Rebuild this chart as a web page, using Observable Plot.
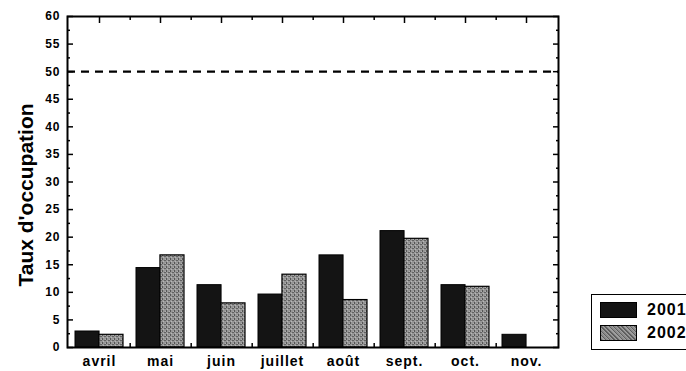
<!DOCTYPE html>
<html><head><meta charset="utf-8">
<script src="https://cdn.jsdelivr.net/npm/d3@7"></script>
<script src="https://cdn.jsdelivr.net/npm/@observablehq/plot@0.6"></script>
<style>
body{margin:0;background:#fff;overflow:hidden;font-family:"Liberation Sans",Arial,sans-serif;}
#wrap{position:relative;width:686px;height:371px;overflow:hidden;background:#fff;}
#wrap svg{position:absolute;left:0;top:0;}
g[aria-label="y-axis tick label"] text{letter-spacing:1px;font-weight:bold;font-size:12px;}
g[aria-label="x-axis tick label"] text{letter-spacing:1px;font-weight:bold;font-size:14px;}
#legend{position:absolute;left:591px;top:294px;width:120px;height:56px;border:1.5px solid #000;box-sizing:border-box;}
#legend .row{position:absolute;left:8px;height:17px;display:flex;align-items:center;}
#legend .sw{display:inline-block;width:37px;height:16px;border:1px solid #000;box-sizing:border-box;margin-right:10px;}
#legend .lab{font-weight:bold;font-size:16px;letter-spacing:1px;color:#000;}
</style></head><body><div id="wrap"></div>
<script>
const months = ["avril","mai","juin","juillet","août","sept.","oct.","nov."];
const years = ["2001","2002"];
const values2001 = [2.9, 14.4, 11.3, 9.6, 16.7, 21.1, 11.3, 2.3];
const values2002 = [2.3, 16.7, 8.0, 13.2, 8.6, 19.7, 11.0, 0];
const yTicks = [0,5,10,15,20,25,30,35,40,45,50,55,60];
const yMinorTicks = [2.5,7.5,12.5,17.5,22.5,27.5,32.5,37.5,42.5,47.5,52.5,57.5];
const referenceLevel = 50;
const yLabel = "Taux d'occupation";

const rows2001 = months.map((m,i)=>({month:m, year:years[0], value:values2001[i]})).filter(d=>d.value>0);
const rows2002 = months.map((m,i)=>({month:m, year:years[1], value:values2002[i]})).filter(d=>d.value>0);

const W = 686, H = 371, mL = 67, mR = 128, mT = 16, mB = 24;
const padIn = 0.22, padOut = 0.11;
const step = (W - mL - mR) / (months.length - padIn + 2*padOut);
const half = step * (1 - padIn) / 2;
const fillA = "#141414";
const fillB = "url(#stip)";

const chart = Plot.plot({
  width: W, height: H,
  marginLeft: mL, marginRight: mR, marginTop: mT, marginBottom: mB,
  style: {fontFamily: '"Liberation Sans", Arial, sans-serif', color: "#000", background: "transparent"},
  x: {domain: months, paddingInner: padIn, paddingOuter: padOut, axis: null, label: null},
  y: {domain: [0, 60], axis: null, label: null},
  marks: [
    Plot.barY(rows2001, {x: "month", y: "value", fill: fillA, stroke: "#000", strokeWidth: 1, insetRight: half, insetLeft: 0}),
    Plot.barY(rows2002, {x: "month", y: "value", fill: fillB, stroke: "#000", strokeWidth: 1.2, insetLeft: half, insetRight: 0}),
    Plot.ruleY([referenceLevel], {strokeDasharray: "8,6", strokeWidth: 2.2}),
    Plot.axisY({ticks: yTicks, anchor: "left", tickSize: 0, tickPadding: 7, fontSize: 12, fontWeight: "bold", label: null}),
    Plot.axisY({ticks: yTicks, anchor: "left", tickSize: -6, text: null, label: null, strokeWidth: 1.5}),
    Plot.axisY({ticks: yMinorTicks, anchor: "left", tickSize: -3, text: null, label: null, strokeWidth: 1.5}),
    Plot.axisY({ticks: yTicks, anchor: "right", tickSize: -6, text: null, label: null, strokeWidth: 1.5}),
    Plot.axisY({ticks: yMinorTicks, anchor: "right", tickSize: -3, text: null, label: null, strokeWidth: 1.5}),
    Plot.axisX({anchor: "top", tickSize: -6, text: null, label: null, strokeWidth: 1.5}),
    Plot.axisX({anchor: "top", ticks: months.slice(0, -1), tickSize: -3, dx: step/2, text: null, label: null, strokeWidth: 1.5}),
    Plot.axisX({anchor: "bottom", ticks: months.slice(0, -1), tickSize: -4, dx: step/2, text: null, label: null, strokeWidth: 1.5}),
    Plot.axisX({anchor: "bottom", tickSize: 0, tickPadding: 9, fontSize: 14, fontWeight: "bold", label: null}),
    Plot.text([yLabel], {text: d => d, frameAnchor: "left", textAnchor: "middle", lineAnchor: "middle", rotate: -90, dx: -41, dy: 13, fontSize: 21, fontWeight: "bold", fill: "#000"}),
    Plot.frame({strokeWidth: 2})
  ]
});

const ns = "http://www.w3.org/2000/svg";
const defs = document.createElementNS(ns, "defs");
defs.innerHTML = '<pattern id="stip" width="4" height="4" patternUnits="userSpaceOnUse">' +
  '<rect width="4" height="4" fill="#969696"/>' +
  '<rect x="0" y="0" width="2" height="1" fill="#626262"/>' +
  '<rect x="2" y="2" width="1" height="2" fill="#555555"/>' +
  '<rect x="3" y="1" width="1" height="1" fill="#b8b8b8"/>' +
  '<rect x="1" y="3" width="1" height="1" fill="#b0b0b0"/>' +
  '</pattern>';
chart.insertBefore(defs, chart.firstChild);

const wrap = document.getElementById("wrap");
wrap.appendChild(chart);

const legend = document.createElement("div");
legend.id = "legend";
const swFills = [fillA, "repeating-linear-gradient(45deg,#5e5e5e 0 1px,#8c8c8c 1px 2px,#a0a0a0 2px 3px)"];
years.forEach((y, i) => {
  const row = document.createElement("div");
  row.className = "row";
  row.style.top = (i === 0 ? 6 : 29) + "px";
  const sw = document.createElement("span");
  sw.className = "sw";
  sw.style.background = swFills[i];
  const lab = document.createElement("span");
  lab.className = "lab";
  lab.textContent = y;
  row.appendChild(sw); row.appendChild(lab);
  legend.appendChild(row);
});
wrap.appendChild(legend);
</script></body></html>
